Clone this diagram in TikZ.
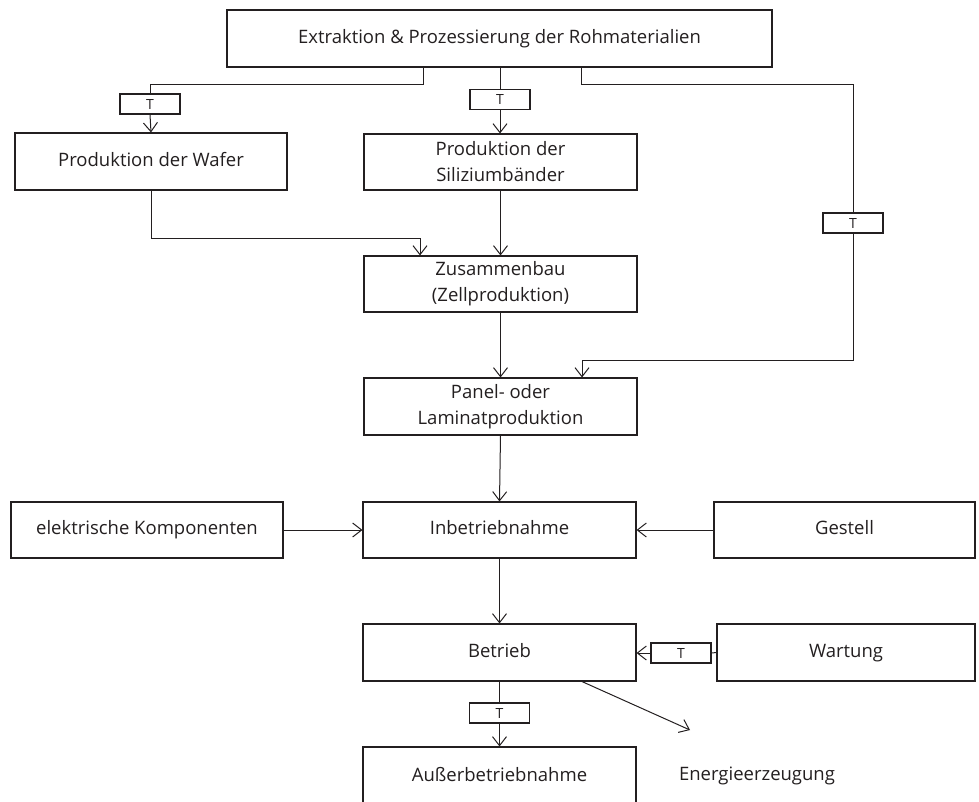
\documentclass[tikz,border=0pt]{standalone}
\usepackage{fontspec}
\setmainfont{Open Sans}
\usetikzlibrary{arrows.meta}
\definecolor{ink}{HTML}{231F20}
\begin{document}
\begin{tikzpicture}[x=1pt,y=-1pt,
 box/.style={draw=ink, line width=1.1pt, align=center, inner sep=0pt, text=ink,
   font=\fontsize{18.5}{26}\selectfont},
 one/.style={text height=13pt, text depth=4pt},
 tbox/.style={draw=ink, line width=1.1pt, minimum width=60pt, minimum height=20pt,
   inner sep=0pt, text=ink, font=\fontsize{14}{14}\selectfont, text height=10pt, text depth=0pt},
 conn/.style={draw=ink, line width=1pt},
 arr/.style={conn, -{Straight Barb[length=9pt,width=14pt]}}]
\clip (0,0) rectangle (979,801);
% boxes
\node[box, one, minimum width=545pt, minimum height=57pt] (top) at (499.5,38.5) {Extraktion \& Prozessierung der Rohmaterialien};
\node[box, one, minimum width=272pt, minimum height=57pt] (wafer) at (151,161.5) {Produktion der Wafer};
\node[box, minimum width=273pt, minimum height=56pt] (sil) at (500.5,162) {Produktion der\\Siliziumbänder};
\node[box, minimum width=273pt, minimum height=56pt] (zus) at (500.5,284) {Zusammenbau\\(Zellproduktion)};
\node[box, minimum width=273pt, minimum height=57pt] (panel) at (500.5,406.5) {Panel- oder\\Laminatproduktion};
\node[box, one, minimum width=273pt, minimum height=56pt] (inb) at (499.5,530) {Inbetriebnahme};
\node[box, one, minimum width=272pt, minimum height=56pt] (elek) at (147,530) {elektrische Komponenten};
\node[box, one, minimum width=261pt, minimum height=56pt] (gest) at (844.5,530) {Gestell};
\node[box, one, minimum width=273pt, minimum height=57pt] (betr) at (499.5,652.5) {Betrieb};
\node[box, one, minimum width=258pt, minimum height=57pt] (wart) at (846,652.5) {Wartung};
\node[box, one, minimum width=273pt, minimum height=60pt] (auss) at (499.5,777) {Außerbetriebnahme};
\node[text=ink, font=\fontsize{18.5}{20}\selectfont] (energ) at (757,776) {Energieerzeugung};
% T boxes
\node[tbox] (t1) at (150,104) {T};
\node[tbox] (t2) at (500,99.5) {T};
\node[tbox] (t3) at (853,223) {T};
\node[tbox] (t4) at (681,653) {T};
\node[tbox] (t5) at (499.5,713) {T};
% helper coordinates
\coordinate (topl) at ([xshift=-76.5pt]top.south);
\coordinate (topr) at ([xshift=81.5pt]top.south);
\coordinate (panr) at ([xshift=81.5pt]panel.north);
\coordinate (zusl) at ([xshift=-80.5pt]zus.north);
\coordinate (betrr) at ([xshift=82.5pt]betr.south);
\coordinate (entip) at (690,730);
% connectors
\draw[conn] (topl) -- (topl |- 0,84) -| (t1.north);
\draw[arr] (t1.south) -- (wafer.north);
\draw[conn] (top.south -| t2.north) -- (t2.north);
\draw[arr] (t2.south) -- (t2.south |- sil.north);
\draw[conn] (topr) -- (topr |- 0,84) -| (t3.north);
\draw[arr] (t3.south) -- (t3.south |- 0,360) -| (panr);
\draw[arr] (wafer.south) -- (wafer.south |- 0,238) -| (zusl);
\draw[arr] (sil.south) -- (zus.north);
\draw[arr] (zus.south) -- (panel.north);
\draw[arr] (panel.south) -- (inb.north);
\draw[arr] (elek.east) -- (inb.west);
\draw[arr] (gest.west) -- (inb.east);
\draw[arr] (inb.south) -- (betr.north);
\draw[conn] (wart.west) -- (t4.east);
\draw[arr] (t4.west) -- (t4.west -| betr.east);
\draw[conn] (betr.south) -- (betr.south -| t5.north) -- (t5.north);
\draw[arr] (t5.south) -- (t5.south |- auss.north);
\draw[arr] (betrr) -- (entip);
\end{tikzpicture}
\end{document}
